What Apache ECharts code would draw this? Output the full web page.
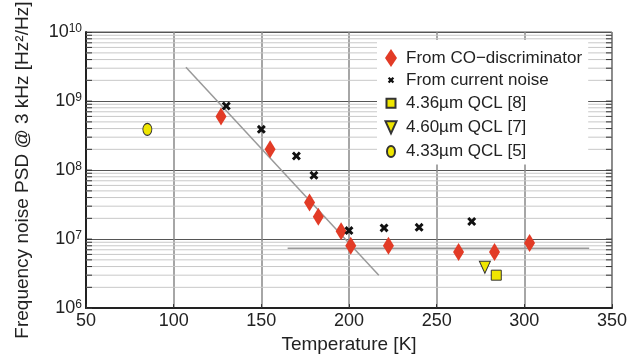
<!DOCTYPE html>
<html>
<head>
<meta charset="utf-8">
<script src="https://cdn.jsdelivr.net/npm/echarts@6/dist/echarts.min.js"></script>
<style>
  html, body { margin: 0; padding: 0; background: #fff; }
  #chart { width: 630px; height: 359px; }
</style>
</head>
<body>
<div id="chart"></div>
<script>
// values
const CO_TEMP = [127, 155, 177.5, 182.5, 195.5, 201, 222.5, 262.5, 283, 303];
const CO_PSD = [6.0e8, 2.0e8, 3.4e7, 2.1e7, 1.3e7, 8.0e6, 8.0e6, 6.5e6, 6.5e6, 8.8e6];

const CUR_TEMP = [130, 150, 170, 180, 200, 220, 240, 270];
const CUR_PSD = [8.5e8, 3.9e8, 1.6e8, 8.4e7, 1.33e7, 1.45e7, 1.48e7, 1.8e7];

const QCL8_TEMP = [284];
const QCL8_PSD = [3.0e6];
const QCL7_TEMP = [277.5];
const QCL7_PSD = [3.9e6];
const QCL5_TEMP = [85];
const QCL5_PSD = [3.9e8];

// guide lines
const STEEP_TEMP = [107, 217];
const STEEP_PSD = [3.1e9, 3.0e6];
const FLAT_TEMP = [165, 337];
const FLAT_PSD = [7.4e6, 7.4e6];

const LEGEND_NAMES = ['From CO\u2212discriminator', 'From current noise', '4.36\u00b5m QCL [8]', '4.60\u00b5m QCL [7]', '4.33\u00b5m QCL [5]'];

// log grid helpers
const DECADES = [1e6, 1e7, 1e8, 1e9];
const MINOR_STEPS = [2, 3, 4, 5, 6, 7, 8, 9];

const RED = '#e23b26';
const YELLOW = '#efe600';
const FONT = 'Liberation Sans';

const pairs = (xs, ys) => xs.map((x, i) => [x, ys[i]]);

const minorRows = [];
DECADES.forEach(d => MINOR_STEPS.forEach(k => minorRows.push([50, d * k, 1])));
DECADES.slice(1).forEach(d => minorRows.push([50, d, 0]));

const CROSS = 'path://M0,1.4L1.4,0L3,1.6L4.6,0L6,1.4L4.4,3L6,4.6L4.6,6L3,4.4L1.4,6L0,4.6L1.6,3Z';

const ICONS = [
  'path://M0,0M20,20M10,1L16,10L10,19L4,10Z',
  'path://M0,0M20,20M6.8,8.4L8.4,6.8L10,8.4L11.6,6.8L13.2,8.4L11.6,10L13.2,11.6L11.6,13.2L10,11.6L8.4,13.2L6.8,11.6L8.4,10Z',
  'path://M0,0M20,20M5.5,5.5L14.5,5.5L14.5,14.5L5.5,14.5Z',
  'path://M0,0M20,20M4.5,4L15.5,4L10,16Z',
  'path://M0,0M20,20M10,4.5A4,5.5,0,1,1,10,15.5A4,5.5,0,1,1,10,4.5Z'
];

const chart = echarts.init(document.getElementById('chart'), null, { renderer: 'canvas' });

chart.setOption({
  animation: false,
  textStyle: { fontFamily: FONT },
  grid: {
    left: 86, right: 17, top: 32, bottom: 48,
    show: true, borderColor: '#333', borderWidth: 1
  },
  legend: {
    left: 377, top: 40,
    orient: 'vertical',
    backgroundColor: '#fff',
    padding: [8, 6, 2, 3],
    itemWidth: 20, itemHeight: 20, itemGap: 2.1,
    textStyle: { fontSize: 17, color: '#222', fontFamily: FONT },
    data: LEGEND_NAMES.map((n, i) => ({ name: n, icon: ICONS[i] }))
  },
  xAxis: {
    type: 'value',
    min: 50, max: 350, interval: 50,
    name: 'Temperature [K]',
    nameLocation: 'middle', nameGap: 24,
    nameTextStyle: { fontSize: 19, color: '#222', fontFamily: FONT },
    axisLine: { lineStyle: { color: '#222', width: 2 } },
    axisTick: { inside: true, length: 4, lineStyle: { color: '#333' } },
    axisLabel: { fontSize: 18, color: '#222', margin: 4, fontFamily: FONT },
    splitLine: { lineStyle: { color: '#888', width: 1.5 } }
  },
  yAxis: {
    type: 'log', logBase: 10,
    min: 1e6, max: 1e10,
    name: 'Frequency noise PSD @ 3 kHz [Hz\u00b2/Hz]',
    nameLocation: 'middle', nameGap: 54,
    nameTextStyle: { fontSize: 19, color: '#222', fontFamily: FONT },
    axisLine: { lineStyle: { color: '#222', width: 2 } },
    axisTick: { inside: true, length: 6, lineStyle: { color: '#333' } },
    axisLabel: {
      margin: 4,
      formatter: v => '{b|10}{e|' + Math.round(Math.log10(v)) + '}',
      rich: {
        b: { fontSize: 18, color: '#222', fontFamily: FONT, verticalAlign: 'bottom' },
        e: { fontSize: 12, color: '#222', fontFamily: FONT, verticalAlign: 'top', padding: [0, 0, 4, 0] }
      }
    },
    splitLine: { lineStyle: { color: '#555', width: 1 } }
  },
  series: [
    {
      type: 'custom',
      silent: true,
      z: 1,
      data: minorRows,
      renderItem: (params, api) => {
        const cs = params.coordSys;
        const y = api.coord([api.value(0), api.value(1)])[1];
        const kids = [
          { type: 'line', shape: { x1: cs.x, y1: y, x2: cs.x + 6, y2: y }, style: { stroke: '#333', lineWidth: 1 } },
          { type: 'line', shape: { x1: cs.x + cs.width - 6, y1: y, x2: cs.x + cs.width, y2: y }, style: { stroke: '#333', lineWidth: 1 } }
        ];
        if (api.value(2)) {
          kids.unshift({ type: 'line', shape: { x1: cs.x, y1: y, x2: cs.x + cs.width, y2: y }, style: { stroke: '#c8c8c8', lineWidth: 1 } });
        }
        return { type: 'group', children: kids };
      }
    },
    {
      type: 'line', data: pairs(STEEP_TEMP, STEEP_PSD), symbol: 'none', silent: true, z: 2,
      lineStyle: { color: '#999', width: 1.5 }
    },
    {
      type: 'line', data: pairs(FLAT_TEMP, FLAT_PSD), symbol: 'none', silent: true, z: 2,
      lineStyle: { color: '#999', width: 1.5 }
    },
    {
      name: LEGEND_NAMES[0], type: 'scatter', data: pairs(CO_TEMP, CO_PSD),
      symbol: 'diamond', symbolSize: [11, 18], z: 3,
      itemStyle: { color: RED, opacity: 1 }
    },
    {
      name: LEGEND_NAMES[1], type: 'scatter', data: pairs(CUR_TEMP, CUR_PSD),
      symbol: CROSS, symbolSize: 9, z: 4,
      itemStyle: { color: '#111', opacity: 1 }
    },
    {
      name: LEGEND_NAMES[2], type: 'scatter', data: pairs(QCL8_TEMP, QCL8_PSD),
      symbol: 'rect', symbolSize: 10, z: 4,
      itemStyle: { color: YELLOW, borderColor: '#333', borderWidth: 1, opacity: 1 }
    },
    {
      name: LEGEND_NAMES[3], type: 'scatter', data: pairs(QCL7_TEMP, QCL7_PSD),
      symbol: 'triangle', symbolRotate: 180, symbolSize: [11, 12], z: 4,
      itemStyle: { color: YELLOW, borderColor: '#333', borderWidth: 1, opacity: 1 }
    },
    {
      name: LEGEND_NAMES[4], type: 'scatter', data: pairs(QCL5_TEMP, QCL5_PSD),
      symbol: 'circle', symbolSize: [9, 12], z: 4,
      itemStyle: { color: YELLOW, borderColor: '#333', borderWidth: 1, opacity: 1 }
    }
  ]
});
</script>
</body>
</html>
